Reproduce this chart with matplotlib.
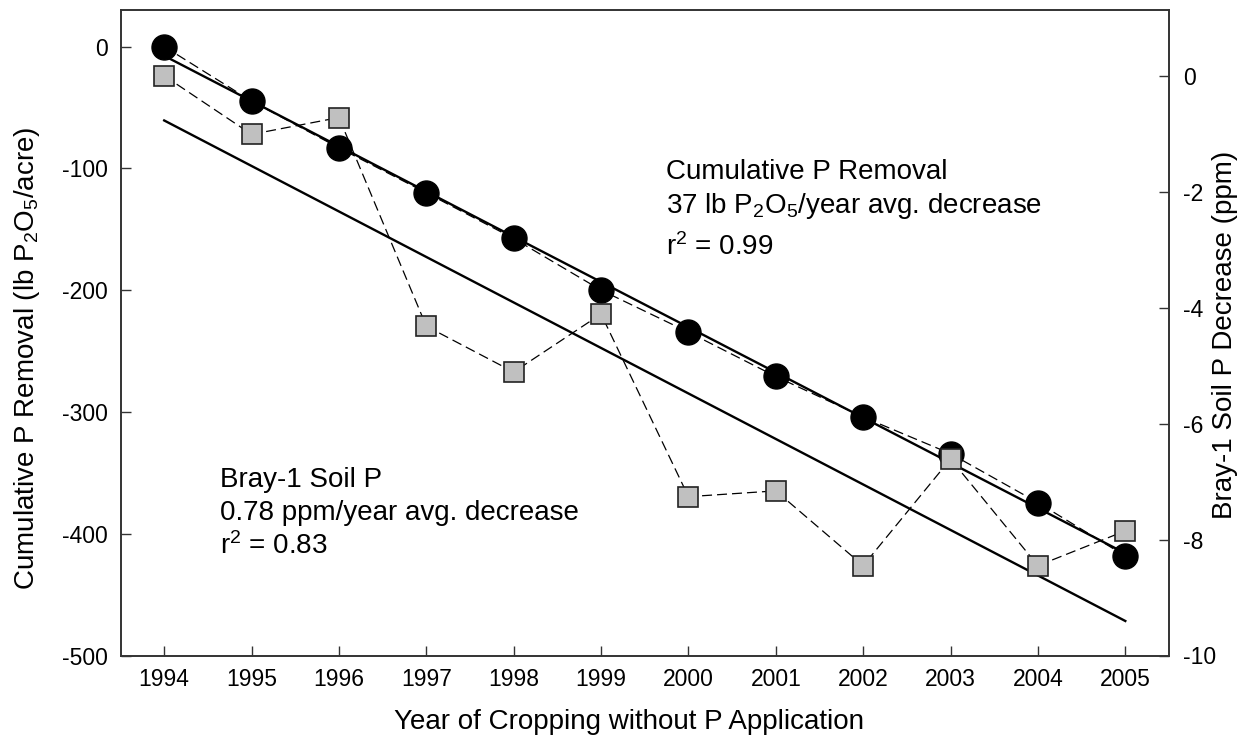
import numpy as np
import matplotlib
matplotlib.use("Agg")
import matplotlib.pyplot as plt

plt.rcParams['font.family'] = ['Liberation Sans', 'DejaVu Sans']
plt.rcParams['mathtext.fontset'] = 'custom'
plt.rcParams['mathtext.rm'] = 'Liberation Sans'
plt.rcParams['mathtext.it'] = 'Liberation Sans:italic'

years = [1994, 1995, 1996, 1997, 1998, 1999, 2000, 2001, 2002, 2003, 2004, 2005]
cumulative_p_removal = [0, -44.8, -83.2, -120.1, -157.6, -200, -234.5, -270.9, -304.2, -334.3, -374.5, -418.3]
bray_soil_p = [0, -1.01, -0.72, -4.32, -5.11, -4.11, -7.26, -7.16, -8.45, -6.61, -8.45, -7.85]
left_ticks = [0, -100, -200, -300, -400, -500]
right_ticks = [0, -2, -4, -6, -8, -10]

W, H = 1257, 742
fig = plt.figure(figsize=(W / 100, H / 100), dpi=100)
ax = fig.add_axes([120.5 / W, 1 - 655.5 / H, (1169 - 120.5) / W, (655.5 - 10) / H])
ax2 = ax.twinx()

yrs = np.array(years, dtype=float)
c = np.array(cumulative_p_removal)
b = np.array(bray_soil_p)

# regression lines fitted to the data
pc = np.polyfit(yrs, c, 1)
pb = np.polyfit(yrs, b, 1)
xe = np.array([yrs[0], yrs[-1]])

ax.plot(xe, np.polyval(pc, xe), color='black', lw=1.7, zorder=2)
ax.plot(yrs, c, color='black', lw=0.9, dashes=(8, 4), zorder=3)
ax.plot(yrs, c, 'o', color='black', ms=18, zorder=4)

ax2.plot(xe, np.polyval(pb, xe), color='black', lw=1.7, zorder=2)
ax2.plot(yrs, b, color='black', lw=0.9, dashes=(8, 4), zorder=3)
ax2.plot(yrs, b, 's', mfc='#c0c0c0', mec='#222222', mew=1.2, ms=14, zorder=4)

ax.set_xlim(1993.5, 2005.5)
ax.set_ylim(-500, 30)
ax2.set_ylim(-10, 1.135)
ax.set_xticks(years)
ax.set_xticklabels([str(y) for y in years])
ax.set_yticks(left_ticks)
ax.set_yticklabels([str(t) for t in left_ticks])
ax2.set_yticks(right_ticks)
ax2.set_yticklabels([str(t) for t in right_ticks])

fs = 16.5
for a in (ax, ax2):
    a.tick_params(direction='in', length=7, width=1, labelsize=fs, color='#333333')
    for s in a.spines.values():
        s.set_linewidth(1.2)
        s.set_color('#333333')
ax.tick_params(axis='x', pad=9)
ax.tick_params(axis='y', pad=9)
ax2.tick_params(axis='y', pad=10)

lf = 20
def px(x, y):
    return x / W, 1 - y / H

fig.text(*px(629.4, 729), 'Year of Cropping without P Application', fontsize=lf,
         ha='center', va='baseline')
fig.text(*px(34, 358), r'Cumulative P Removal (lb P$\mathregular{_2}$O$\mathregular{_5}$/acre)',
         fontsize=lf, rotation=90, rotation_mode='anchor', ha='center', va='baseline')
fig.text(*px(1232, 335), 'Bray-1 Soil P Decrease (ppm)', fontsize=lf,
         rotation=90, rotation_mode='anchor', ha='center', va='baseline')

tf = 20
fig.text(*px(666, 179), 'Cumulative P Removal', fontsize=tf, va='baseline', ha='left')
fig.text(*px(666, 213), r'37 lb P$\mathregular{_2}$O$\mathregular{_5}$/year avg. decrease', fontsize=tf, va='baseline', ha='left')
fig.text(*px(666, 255), r'r$\mathregular{^2}$ = 0.99', fontsize=tf, va='baseline', ha='left')
fig.text(*px(220, 487), 'Bray-1 Soil P', fontsize=tf, va='baseline', ha='left')
fig.text(*px(220, 520), '0.78 ppm/year avg. decrease', fontsize=tf, va='baseline', ha='left')
fig.text(*px(220, 554), r'r$\mathregular{^2}$ = 0.83', fontsize=tf, va='baseline', ha='left')

fig.savefig('out.png', dpi=100)
